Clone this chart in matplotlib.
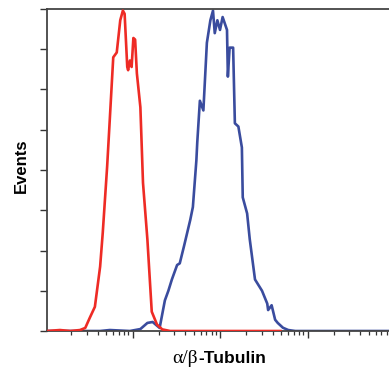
import numpy as np
import matplotlib
matplotlib.use("Agg")
import matplotlib.pyplot as plt
from matplotlib.ticker import LogLocator, NullFormatter, MultipleLocator

# log10 fluorescence intensity and event counts
red_logx = [0.02, 0.17, 0.29, 0.40, 0.46, 0.51, 0.57, 0.63, 0.66, 0.71, 0.74, 0.78,
            0.82, 0.86, 0.89, 0.91, 0.94, 0.95, 0.97, 0.99, 1.01, 1.03, 1.05, 1.09,
            1.12, 1.17, 1.22, 1.28, 1.34, 1.43, 2.69]
red_counts = [0, 0.6, 0, 0.6, 1.9, 8, 15, 40, 61, 102, 131, 170,
              173, 193, 199, 197, 164, 162, 168, 164, 182, 181, 160, 139,
              92, 57, 12, 4, 1, 0, 0]

blue_logx = [0.02, 0.63, 0.74, 0.97, 1.09, 1.17, 1.23, 1.31, 1.37, 1.41, 1.45, 1.51,
             1.54, 1.59, 1.66, 1.69, 1.73, 1.74, 1.77, 1.81, 1.85, 1.89, 1.92, 1.94,
             1.97, 2.00, 2.03, 2.08, 2.09, 2.11, 2.15, 2.17, 2.21, 2.25, 2.26, 2.31,
             2.34, 2.40, 2.48, 2.54, 2.55, 2.59, 2.63, 2.66, 2.72, 2.78, 2.86, 3.93]
blue_counts = [0, 0, 0.6, 0, 1.2, 5, 5.6, 1.9, 19, 25, 32, 41,
               42, 53, 69, 77, 106, 117, 143, 137, 179, 193, 199, 185,
               193, 187, 195, 187, 158, 176, 176, 129, 127, 114, 83, 73,
               57, 32, 25, 17, 13, 16, 7, 5, 2, 0.6, 0, 0]

x_label_greek = "α/β"
x_label_rest = "-Tubulin"
y_label = "Events"

W, H = 389, 368
fig = plt.figure(figsize=(W/100, H/100), dpi=100)
ax = fig.add_axes([47/W, 1-331/H, 1-47/W, 322/H])

ax.plot(10**np.array(red_logx), red_counts, color='#ee2b25', lw=1.9, zorder=3)
ax.plot(10**np.array(blue_logx), blue_counts, color='#3a4c9e', lw=1.9, zorder=2)

ax.set_xscale('log')
ax.set_xlim(10**(2/87.5), 10**((389-45)/87.5))
ax.set_ylim(0, 200)
ax.xaxis.set_major_locator(LogLocator(base=10, numticks=10))
ax.xaxis.set_minor_locator(LogLocator(base=10, subs=np.arange(2, 10), numticks=10))
ax.xaxis.set_major_formatter(NullFormatter())
ax.xaxis.set_minor_formatter(NullFormatter())
ax.yaxis.set_major_locator(MultipleLocator(25))
ax.yaxis.set_major_formatter(NullFormatter())

ax.tick_params(axis='both', which='major', direction='out', length=5, width=1.0, color='#333333')
ax.tick_params(axis='x', which='minor', direction='out', length=3, width=0.9, color='#333333')

for s in ['left', 'top', 'bottom']:
    ax.spines[s].set_color('#444444')
    ax.spines[s].set_linewidth(1.3)
ax.spines['right'].set_visible(False)

# x-axis label: serif Greek part + bold sans part, joined at x=198px
fig.text(198/W, 1-363/H, x_label_greek, ha='right', va='baseline',
         fontsize=14, family=['Liberation Serif', 'DejaVu Serif'], color='black')
fig.text(198/W, 1-363/H, x_label_rest, ha='left', va='baseline',
         fontsize=12.5, fontweight='bold', family=['Liberation Sans', 'DejaVu Sans'],
         color='black')

fig.text(21/W, 1-166/H, y_label, rotation=90, ha='center', va='center',
         fontsize=12, fontweight='bold', family=['Liberation Sans', 'DejaVu Sans'],
         color='black')

fig.savefig('out.png', dpi=100)
